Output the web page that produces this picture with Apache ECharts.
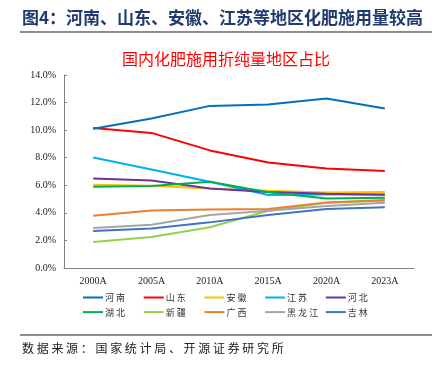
<!DOCTYPE html>
<html><head><meta charset="utf-8">
<script src="https://cdn.jsdelivr.net/npm/echarts@6/dist/echarts.min.js"></script>
<style>html,body{margin:0;padding:0;background:#fff}#c{width:442px;height:370px}</style>
</head><body><div id="c"></div>
<script>
const categories = ['2000A','2005A','2010A','2015A','2020A','2023A'];
const seriesNames = ['河南','山东','安徽','江苏','河北','湖北','新疆','广西','黑龙江','吉林'];
const henan = [10.1, 10.85, 11.76, 11.86, 12.3, 11.57];
const shandong = [10.15, 9.8, 8.53, 7.66, 7.22, 7.03];
const anhui = [6.04, 5.97, 5.77, 5.6, 5.48, 5.52];
const jiangsu = [8.02, 7.15, 6.25, 5.29, 5.33, 5.34];
const hebei = [6.5, 6.35, 5.77, 5.52, 5.39, 5.31];
const hubei = [5.89, 5.94, 6.25, 5.5, 5.05, 5.1];
const xinjiang = [1.88, 2.25, 2.95, 4.15, 4.74, 4.88];
const guangxi = [3.79, 4.17, 4.25, 4.28, 4.76, 4.93];
const heilongjiang = [2.9, 3.14, 3.84, 4.15, 4.49, 4.73];
const jilin = [2.68, 2.87, 3.31, 3.84, 4.28, 4.4];
const yTicks = [0, 2, 4, 6, 8, 10, 12, 14];
const values = [henan, shandong, anhui, jiangsu, hebei, hubei, xinjiang, guangxi, heilongjiang, jilin];
const colors = ['#0070C0','#FF0000','#FFC000','#00B0F0','#7030A0','#00B050','#92D050','#ED7D31','#A5A5A5','#4472C4'];

const chart = echarts.init(document.getElementById('c'), null, {renderer:'canvas'});
const spaced = s => s.split('').join(' ');
const legends = seriesNames.map((n, i) => ({
  data: [n],
  left: 83 + (i % 5) * 60.7,
  top: 293 + Math.floor(i / 5) * 14.6,
  padding: 0,
  itemWidth: 20, itemHeight: 2, itemGap: 0, icon: 'rect',
  textStyle: {fontSize: 9, color: '#333', fontFamily: 'Noto Sans CJK SC', padding:[0,0,0,-3]},
  formatter: spaced
}));
chart.setOption({
  animation: false,
  color: colors,
  title: {
    text: '国内化肥施用折纯量地区占比', left: 117, top: 46,
    textStyle: {color: '#FF0000', fontSize: 16, fontWeight: 'normal', fontFamily: 'Noto Sans CJK SC'}
  },
  graphic: [
    {type:'text', left: 22, top: 9, style:{text:'图4：河南、山东、安徽、江苏等地区化肥施用量较高', fill:'#1F3A6E', font:'bold 17px "Noto Sans CJK SC"'}},
    {type:'rect', shape:{x:20, y:31, width:412, height:2}, style:{fill:'#8C8C8C'}},
    {type:'rect', shape:{x:20, y:334, width:412, height:2}, style:{fill:'#8C8C8C'}},
    {type:'text', left: 22, top: 342, style:{text:spaced('数据来源：国家统计局、开源证券研究所'), fill:'#222', font:'12px "Noto Sans CJK SC"'}}
  ],
  legend: legends,
  grid: {left: 64, right: 28, top: 75, bottom: 102},
  xAxis: {
    type: 'category', data: categories, boundaryGap: true,
    axisLine: {lineStyle: {color: '#808080'}},
    axisTick: {inside: true, length: 3, lineStyle:{color:'#808080'}},
    axisLabel: {color: '#222', fontSize: 10, fontFamily: 'Liberation Serif', margin: 8}
  },
  yAxis: {
    type: 'value', min: yTicks[0], max: yTicks[yTicks.length-1], interval: 2,
    axisLine: {show: true, lineStyle: {color: '#808080'}},
    axisTick: {show: true, inside: true, length: 3, lineStyle:{color:'#808080'}},
    splitLine: {show: false},
    axisLabel: {color: '#222', fontSize: 10, fontFamily: 'Liberation Serif', margin: 8,
      formatter: v => v.toFixed(1) + '%'}
  },
  series: seriesNames.map((n, i) => ({
    name: n, type: 'line', data: values[i], symbol: 'none',
    lineStyle: {width: 2, color: colors[i]}, z: i===0 ? 3 : 2
  }))
});
</script></body></html>
